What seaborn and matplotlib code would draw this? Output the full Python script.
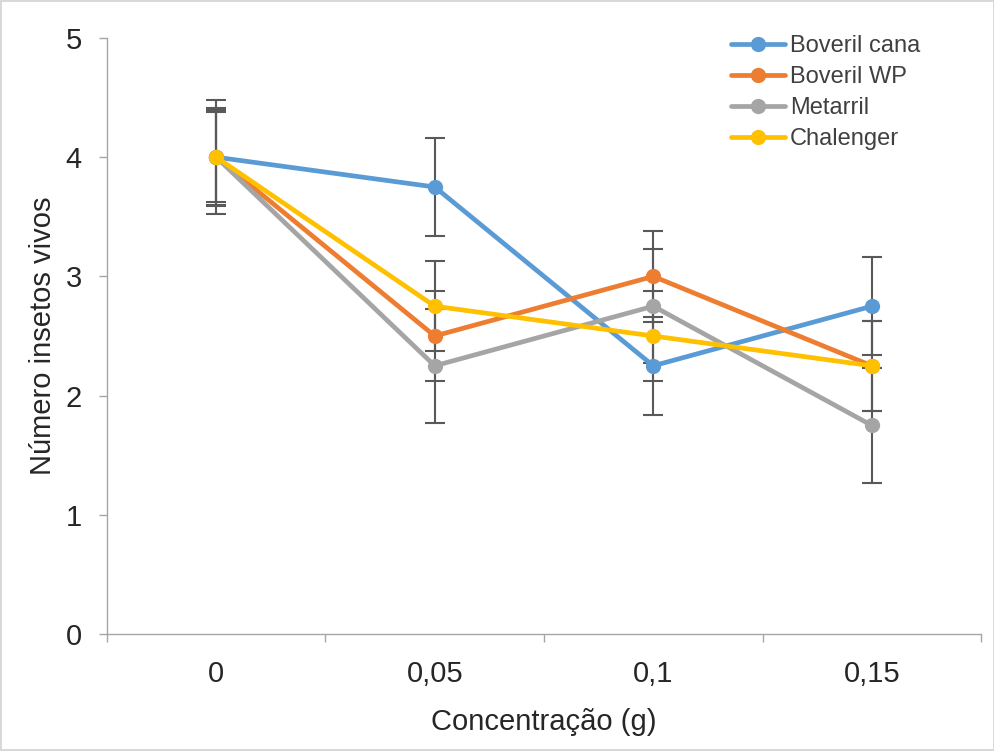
import numpy as np
import pandas as pd
import matplotlib
matplotlib.use("Agg")
import matplotlib.pyplot as plt
import seaborn as sns
from matplotlib.lines import Line2D

categories = ["0", "0,05", "0,1", "0,15"]
series_names = ["Boveril cana", "Boveril WP", "Metarril", "Chalenger"]
boveril_cana = [4.0, 3.75, 2.25, 2.75]
boveril_wp = [4.0, 2.5, 3.0, 2.25]
metarril = [4.0, 2.25, 2.75, 1.75]
chalenger = [4.0, 2.75, 2.5, 2.25]
err_boveril_cana = [0.41, 0.41, 0.41, 0.41]
err_boveril_wp = [0.38, 0.38, 0.38, 0.38]
err_metarril = [0.48, 0.48, 0.48, 0.48]
err_chalenger = [0.40, 0.38, 0.38, 0.38]
colors = ["#5B9BD5", "#ED7D31", "#A5A5A5", "#FFC000"]

values = [boveril_cana, boveril_wp, metarril, chalenger]
errors = [err_boveril_cana, err_boveril_wp, err_metarril, err_chalenger]

rows = []
for name, vals, errs in zip(series_names, values, errors):
    for i, (v, e) in enumerate(zip(vals, errs)):
        rows.append({"series": name, "pos": i, "value": v, "err": e})
df = pd.DataFrame(rows)

sns.set_style("white")
plt.rcParams["font.family"] = ["Liberation Sans", "DejaVu Sans"]

fig = plt.figure(figsize=(9.95, 7.51), dpi=100)
fig.patch.set_edgecolor("#D9D9D9")
fig.patch.set_linewidth(1.5)
ax = fig.add_axes([0.1075, 0.1558, 0.8785, 0.7936])

# error bars (behind lines)
for name in series_names:
    d = df[df.series == name]
    ax.errorbar(d["pos"], d["value"], yerr=d["err"], fmt="none",
                ecolor="#595959", elinewidth=1.5, capsize=7, capthick=1.5,
                zorder=1)

sns.lineplot(data=df, x="pos", y="value", hue="series", hue_order=series_names,
             palette=colors, marker="o", markersize=11, markeredgewidth=0,
             linewidth=3.4, sort=False, ax=ax, zorder=3, legend=False)

ax.set_xlim(-0.5, 3.5)
ax.set_ylim(0, 5)
ax.set_yticks([0, 1, 2, 3, 4, 5])
ax.set_xticks(range(len(categories)))
ax.set_xticklabels(categories)
ax.set_xticks([-0.5, 0.5, 1.5, 2.5, 3.5], minor=True)

for s in ["top", "right"]:
    ax.spines[s].set_visible(False)
for s in ["left", "bottom"]:
    ax.spines[s].set_color("#A6A6A6")
    ax.spines[s].set_linewidth(1.0)

ax.tick_params(axis="x", which="major", length=0, pad=19, labelsize=21,
               labelcolor="#262626")
ax.tick_params(axis="x", which="minor", length=6, width=1.0, color="#A6A6A6",
               direction="out", bottom=True)
ax.tick_params(axis="y", which="major", length=6, width=1.0, color="#A6A6A6",
               direction="out", left=True, pad=12, labelsize=21,
               labelcolor="#262626")

ax.set_xlabel("Concentração (g)", fontsize=21, color="#262626", labelpad=14)
ax.set_ylabel("Número insetos vivos", fontsize=21, color="#262626", labelpad=6)

handles = [Line2D([0], [0], color=c, lw=3.4, marker="o", markersize=11,
                  markeredgewidth=0) for c in colors]
leg = ax.legend(handles, series_names, loc="upper left",
                bbox_to_anchor=(0.725, 0.966), bbox_transform=fig.transFigure,
                frameon=False, fontsize=17, handlelength=2.3,
                handletextpad=0.2, labelspacing=0.38, borderaxespad=0)
for t in leg.get_texts():
    t.set_color("#404040")

fig.savefig("out.png", dpi=100)
